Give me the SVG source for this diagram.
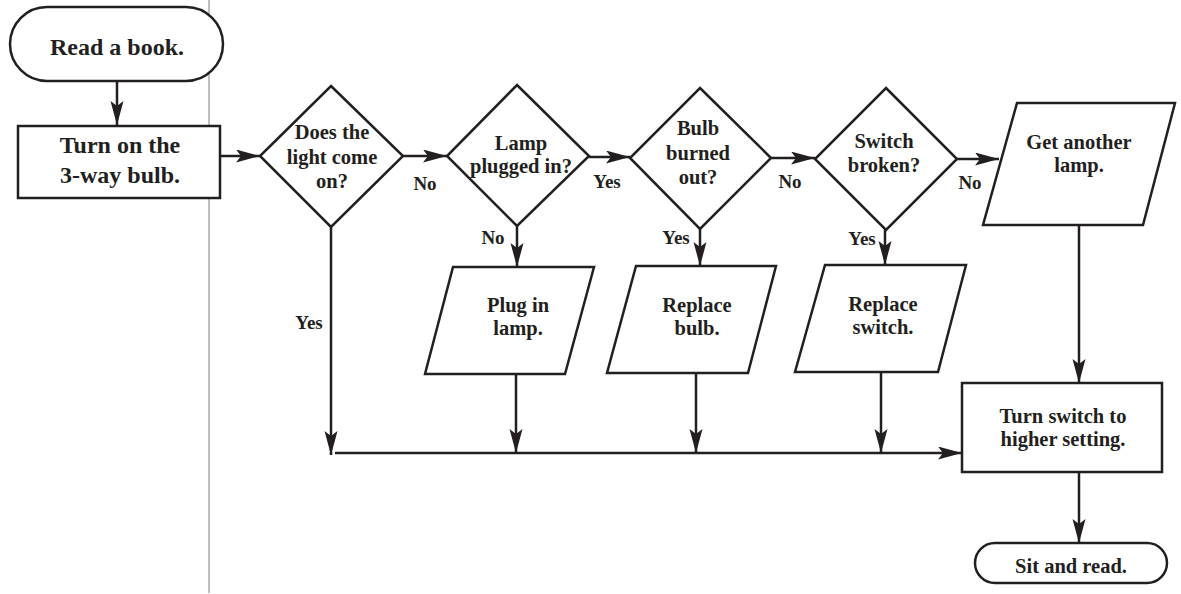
<svg xmlns="http://www.w3.org/2000/svg" width="1181" height="594" viewBox="0 0 1181 594">
<defs>
<style>
.shape{fill:#fff;stroke:#231f20;stroke-width:2.5;stroke-linejoin:miter}
.t{font-family:"Liberation Serif","Times New Roman",serif;font-weight:bold;fill:#231f20;text-anchor:middle}
.big{font-size:24px}
.mid{font-size:20.5px}
.lbl{font-size:19px}
.c{fill:none;stroke:#231f20;stroke-width:2.5}
</style>
<marker id="ah" markerUnits="userSpaceOnUse" markerWidth="26" markerHeight="14" refX="24" refY="6.5" orient="auto">
<path d="M0,0 L24,6.5 L0,13 L5,6.5 z" fill="#231f20"/>
</marker>
</defs>
<rect width="1181" height="594" fill="#fff"/>
<line x1="209" y1="0" x2="209" y2="593" stroke="#a7a9ac" stroke-width="1.5"/>

<g id="connectors">
<path class="c" d="M117,81 V125" marker-end="url(#ah)"/>
<path class="c" d="M220,156 H260" marker-end="url(#ah)"/>
<path class="c" d="M403,156 H447" marker-end="url(#ah)"/>
<path class="c" d="M589,157 H630" marker-end="url(#ah)"/>
<path class="c" d="M771,158 H815" marker-end="url(#ah)"/>
<path class="c" d="M957,159 H999" marker-end="url(#ah)"/>
<path class="c" d="M517,226 V267" marker-end="url(#ah)"/>
<path class="c" d="M700,229 V266" marker-end="url(#ah)"/>
<path class="c" d="M885,230 V265" marker-end="url(#ah)"/>
<path class="c" d="M331,227 V455" marker-end="url(#ah)"/>
<path class="c" d="M335,453 H962" marker-end="url(#ah)"/>
<path class="c" d="M516,374 V453" marker-end="url(#ah)"/>
<path class="c" d="M696,373 V453" marker-end="url(#ah)"/>
<path class="c" d="M881,372 V453" marker-end="url(#ah)"/>
<path class="c" d="M1079,225 V383" marker-end="url(#ah)"/>
<path class="c" d="M1079,472 V543" marker-end="url(#ah)"/>
<text class="t lbl" x="425" y="190">No</text>
<text class="t lbl" x="607" y="188">Yes</text>
<text class="t lbl" x="790" y="188">No</text>
<text class="t lbl" x="970" y="189">No</text>
<text class="t lbl" x="493" y="244">No</text>
<text class="t lbl" x="676" y="244">Yes</text>
<text class="t lbl" x="862" y="245">Yes</text>
<text class="t lbl" x="309" y="329">Yes</text>
</g>

<g id="start">
<rect class="shape" x="10" y="7" width="213" height="74" rx="37" ry="37"/>
<text class="t big" x="117" y="55">Read a book.</text>
</g>

<g id="turn-on">
<rect class="shape" x="18" y="126" width="202" height="72"/>
<text class="t big" x="120" y="153">Turn on the</text>
<text class="t big" x="120" y="183">3-way bulb.</text>
</g>

<g id="d-light">
<polygon class="shape" points="331,86 403,156 331,227 260,156"/>
<text class="t mid" x="332" y="139">Does the</text>
<text class="t mid" x="332" y="164">light come</text>
<text class="t mid" x="332" y="188">on?</text>
</g>

<g id="d-plugged">
<polygon class="shape" points="517,85 589,156 517,226 447,156"/>
<text class="t mid" x="521" y="150">Lamp</text>
<text class="t mid" x="521" y="173">plugged in?</text>
</g>

<g id="d-bulb">
<polygon class="shape" points="700,88 771,158 700,229 630,158"/>
<text class="t mid" x="698" y="135">Bulb</text>
<text class="t mid" x="698" y="160">burned</text>
<text class="t mid" x="698" y="184">out?</text>
</g>

<g id="d-switch">
<polygon class="shape" points="886,88 957,159 886,230 815,159"/>
<text class="t mid" x="884" y="148">Switch</text>
<text class="t mid" x="884" y="172">broken?</text>
</g>

<g id="get-lamp">
<polygon class="shape" points="1017,103 1175,103 1143,225 983,225"/>
<text class="t mid" x="1079" y="149">Get another</text>
<text class="t mid" x="1079" y="172">lamp.</text>
</g>

<g id="plug-in">
<polygon class="shape" points="453,267 594,267 565,374 425,374"/>
<text class="t mid" x="518" y="312">Plug in</text>
<text class="t mid" x="518" y="335">lamp.</text>
</g>

<g id="replace-bulb">
<polygon class="shape" points="636,266 776,266 748,373 607,373"/>
<text class="t mid" x="697" y="312">Replace</text>
<text class="t mid" x="697" y="335">bulb.</text>
</g>

<g id="replace-switch">
<polygon class="shape" points="825,265 966,265 938,372 795,372"/>
<text class="t mid" x="883" y="311">Replace</text>
<text class="t mid" x="883" y="334">switch.</text>
</g>

<g id="turn-switch">
<rect class="shape" x="962" y="383" width="200" height="89"/>
<text class="t mid" x="1063" y="423">Turn switch to</text>
<text class="t mid" x="1063" y="446">higher setting.</text>
</g>

<g id="end">
<rect class="shape" x="975" y="543" width="192" height="40" rx="20" ry="20"/>
<text class="t mid" x="1071" y="573">Sit and read.</text>
</g>
</svg>
